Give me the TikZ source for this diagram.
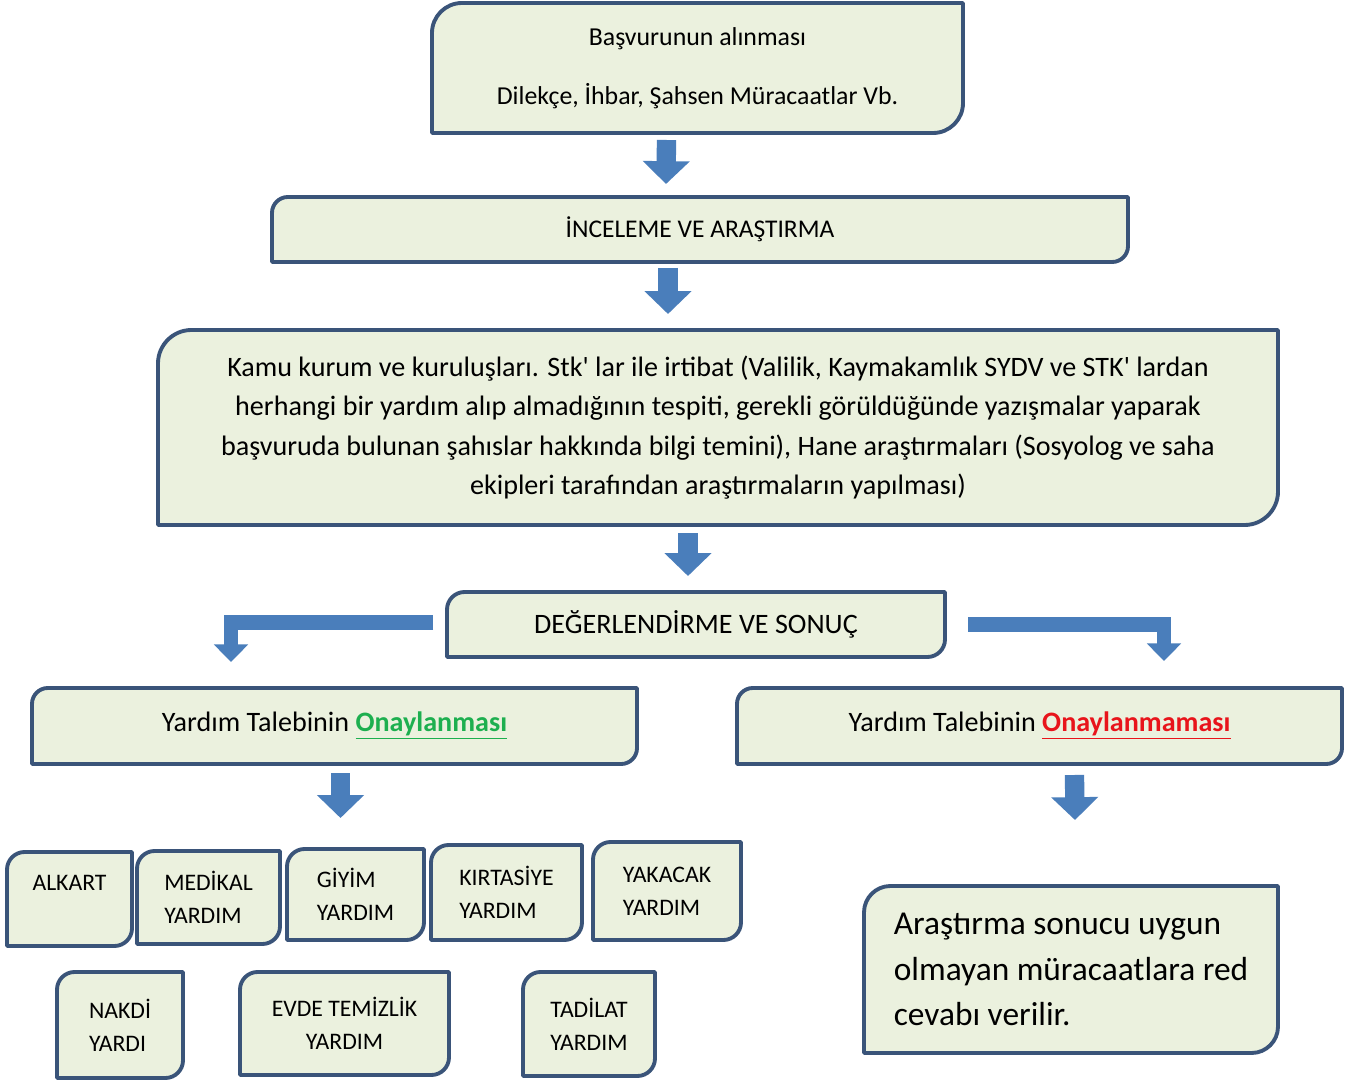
\documentclass[tikz,border=0pt]{standalone}
\usepackage{fontspec}
\setmainfont{Carlito}[Ligatures=TeXOff]
\usetikzlibrary{backgrounds,calc,arrows.meta}

\definecolor{kutuyesil}{HTML}{EBF1DE}
\definecolor{kenarmavi}{HTML}{3A5479}
\definecolor{okmavi}{HTML}{4A7EBB}
\definecolor{onayyesil}{HTML}{1DAF4F}
\definecolor{redkirmizi}{HTML}{E8141B}

\tikzset{
  kutu/.style={inner sep=0pt, outer sep=0pt, align=center, font=\fontsize{14.5}{22.5}\selectfont},
  boyut/.style 2 args={minimum width=#1*0.02cm, minimum height=#2*0.02cm},
  kucuk/.style={kutu, align=left, font=\fontsize{13.5}{18.7}\selectfont},
  kenar/.style={draw=kenarmavi, fill=kutuyesil, line width=2.2pt, line join=round},
  blokok/.style={okmavi, line width=11pt, -{Triangle[width=26pt,length=13pt]}},
  dirsekok/.style={okmavi, line width=8.5pt, -{Triangle[width=19pt,length=10pt]}}
}

\begin{document}
\begin{tikzpicture}[x=0.02cm, y=-0.02cm]

% --- Ust kutular ---
\node[kutu, boyut={531}{130}, font=\fontsize{14.7}{33.4}\selectfont] (recv) at (697.5,68)
  {Başvurunun alınması\\Dilekçe, İhbar, Şahsen Müracaatlar Vb.};
\node[kutu, boyut={856}{65}] (inc) at (700,229.5) {İNCELEME VE ARAŞTIRMA};
\node[kutu, boyut={1120}{195}, font=\fontsize{16}{22.5}\selectfont] (kamu) at (718,427.5)
  {Kamu kurum ve kuruluşları. Stk' lar ile irtibat (Valilik, Kaymakamlık SYDV ve STK' lardan\\
   herhangi bir yardım alıp almadığının tespiti, gerekli görüldüğünde yazışmalar yaparak\\
   başvuruda bulunan şahıslar hakkında bilgi temini), Hane araştırmaları (Sosyolog ve saha\\
   ekipleri tarafından araştırmaların yapılması)};
\node[kutu, boyut={498}{65}, font=\fontsize{16}{20}\selectfont] (deg) at (696,624.5) {DEĞERLENDİRME VE SONUÇ};

% --- Sonuc kutulari ---
\node[kutu, boyut={605}{76}, font=\fontsize{16}{20}\selectfont] (onay) at (334.5,726)
  {Yardım Talebinin \textcolor{onayyesil}{\textbf{\underline{Onaylanması}}}};
\node[kutu, boyut={605}{76}, font=\fontsize{16}{20}\selectfont] (red) at (1039.5,726)
  {Yardım Talebinin \textcolor{redkirmizi}{\textbf{\underline{Onaylanmaması}}}};

% --- Yardim turleri ---
\node[kucuk, boyut={125}{94}] (alkart) at (69.5,899) {ALKART\\\mbox{}};
\node[kucuk, boyut={143}{93}] (medikal) at (208.5,897.5) {MEDİKAL\\YARDIM};
\node[kucuk, boyut={137}{91}] (giyim) at (355.5,894.5) {GİYİM\\YARDIM};
\node[kucuk, boyut={151}{95}] (kirtasiye) at (506.5,892.5) {KIRTASİYE\\YARDIM};
\node[kucuk, boyut={148}{98}] (yakacak) at (667,891) {YAKACAK\\YARDIM};
\node[kucuk, boyut={126}{106}] (nakdi) at (120,1025) {NAKDİ\\YARDI};
\node[kucuk, boyut={209}{103}, align=center] (evde) at (344.5,1023.5) {EVDE TEMİZLİK\\YARDIM};
\node[kucuk, boyut={132}{104}] (tadilat) at (589,1024) {TADİLAT\\YARDIM};

\node[kutu, boyut={414}{167}, align=left, font=\fontsize{19}{25.8}\selectfont] (sonuc) at (1071,969.5)
  {Araştırma sonucu uygun\\olmayan müracaatlara red\\cevabı verilir.};

% --- Kutu cizgileri ---
\begin{scope}[on background layer]
  \fill[white] (0,0) rectangle (1357,1081);
  \useasboundingbox (0,0) rectangle (1357,1081);
  \foreach \n/\r in {recv/17pt, inc/9pt, kamu/19pt, deg/10pt, onay/9pt, red/9pt,
      alkart/10pt, medikal/10pt, giyim/10pt, kirtasiye/10pt, yakacak/10pt,
      nakdi/10pt, evde/10pt, tadilat/10pt, sonuc/15pt}
    \filldraw[kenar] (\n.south west) -- ([yshift=-\r]\n.north west)
      .. controls ([yshift=-0.45*\r]\n.north west) and ([xshift=0.45*\r]\n.north west)
      .. ([xshift=\r]\n.north west) -- (\n.north east)
      -- ([yshift=\r]\n.south east)
      .. controls ([yshift=0.45*\r]\n.south east) and ([xshift=-0.45*\r]\n.south east)
      .. ([xshift=-\r]\n.south east) -- cycle;
\end{scope}

% --- Oklar ---
\draw[blokok] ($(recv.south)+(-31,7)$) -- ($(inc.north)+(-34,-13)$);
\draw[blokok] ($(inc.south)+(-32,6)$) -- ($(kamu.north)+(-50,-16)$);
\draw[blokok] ($(kamu.south)+(-30,8)$) -- ($(deg.north)+(-8,-16)$);

\coordinate (soluc) at (231,662);
\coordinate (saguc) at (1164,661);
\draw[dirsekok] ($(deg.west)+(-14,-2)$) -| (soluc);
\draw[dirsekok] ($(deg.east)+(23,0)$) -| (saguc);

\draw[blokok] ($(onay.south)+(6,9)$) -- ++(0,45);
\draw[blokok] ($(red.south)+(35,11)$) -- ($(sonuc.north)+(4,-66)$);

\end{tikzpicture}
\end{document}
